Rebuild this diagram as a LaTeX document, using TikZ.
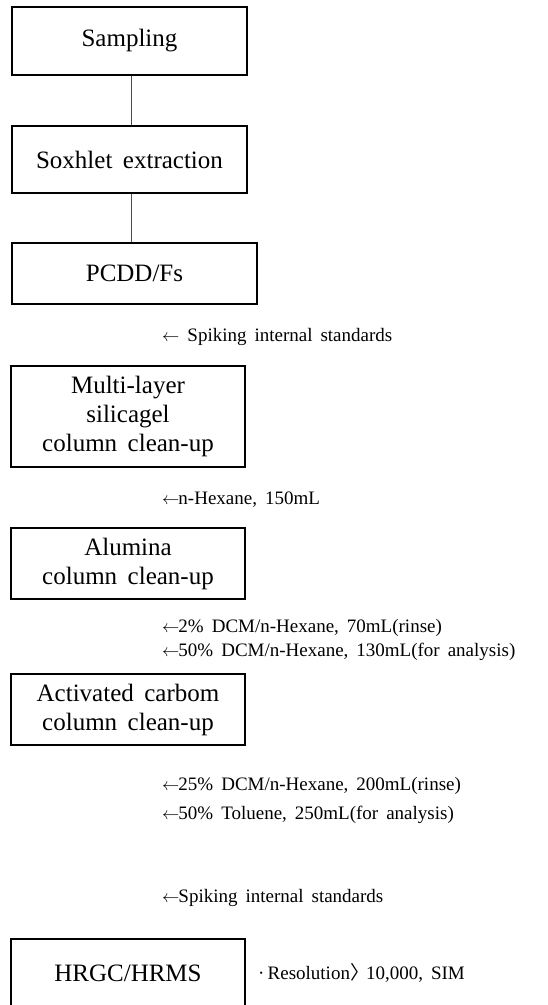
\documentclass[tikz,border=0pt]{standalone}
\usepackage{fontspec}
\setmainfont{Liberation Serif}
\newfontfamily\cjk{Noto Sans CJK KR}
\newcommand\boxfont{\fontsize{25}{29}\selectfont\spaceskip=0.42em plus 0.1em\relax}
\newcommand\notefont{\fontsize{19}{22}\selectfont\spaceskip=0.42em plus 0.1em\relax}
\begin{document}
\begin{tikzpicture}[x=1pt,y=-1pt,
  box/.style={draw=black, line width=2.2pt, align=center, inner sep=0pt, font=\boxfont},
  note/.style={anchor=base west, inner sep=0pt, font=\notefont},
  link/.style={draw=black!70, line width=0.9pt}]
\useasboundingbox (0,0) rectangle (548,1005);
\clip (0,0) rectangle (548,1005);
\node[box, minimum width=235pt, minimum height=68pt] (s1) at (129.5,41) {Sampling};
\node[box, minimum width=235pt, minimum height=67pt] (s2) at (129.5,159.5) {Soxhlet extraction};
\node[box, minimum width=245pt, minimum height=61pt] (s3) at (134.5,273.5) {PCDD/Fs};
\node[box, minimum width=234pt, minimum height=101pt] (s4) at (128,416.5) {Multi-layer\\silicagel\\column clean-up};
\node[box, minimum width=234pt, minimum height=71pt] (s5) at (128,563.5) {Alumina\\column clean-up};
\node[box, minimum width=234pt, minimum height=71pt] (s6) at (128,709.5) {Activated carbom\\column clean-up};
\node[box, minimum width=234pt, minimum height=68pt] (s7) at (128,973) {HRGC/HRMS};
\coordinate (c12a) at (131,75);
\draw[link] (s1.south -| c12a) -- (s2.north -| c12a);
\draw[link] (s2.south -| c12a) -- (s3.north -| c12a);
\node[note] (n1) at (162,341) {$\leftarrow$ Spiking internal standards};
\node[note] (n2) at (162,504) {$\leftarrow$\kern-1pt n-Hexane, 150mL};
\node[note] (n3) at (162,632) {$\leftarrow$\kern-1pt 2\% DCM/n-Hexane, 70mL(rinse)};
\node[note] (n4) at (162,656) {$\leftarrow$\kern-1pt 50\% DCM/n-Hexane, 130mL(for analysis)};
\node[note] (n5) at (162,790) {$\leftarrow$\kern-1pt 25\% DCM/n-Hexane, 200mL(rinse)};
\node[note] (n6) at (162,819) {$\leftarrow$\kern-1pt 50\% Toluene, 250mL(for analysis)};
\node[note] (n7) at (162,902) {$\leftarrow$\kern-1pt Spiking internal standards};
\node[note] (n8) at (258,979) {·\,Resolution{\cjk 〉}\kern-3pt 10,000, SIM};
\end{tikzpicture}
\end{document}
